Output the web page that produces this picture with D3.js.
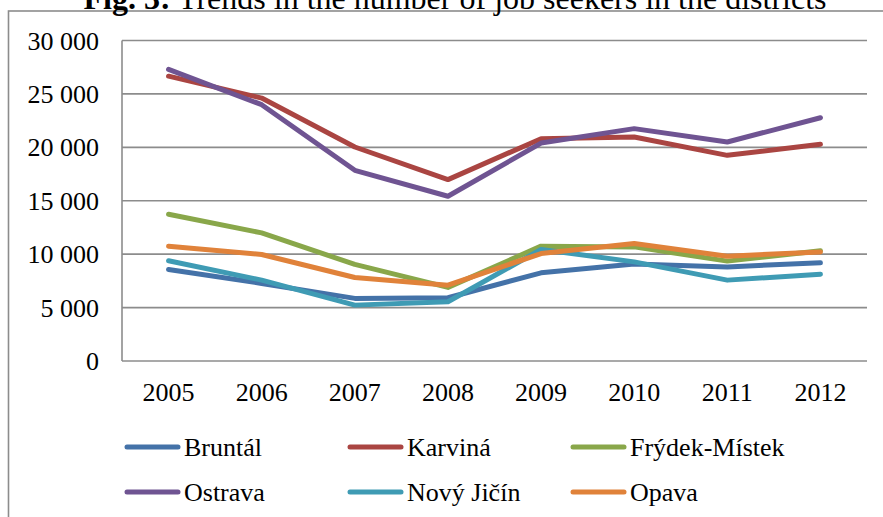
<!DOCTYPE html>
<html>
<head>
<meta charset="utf-8">
<script src="https://cdn.jsdelivr.net/npm/d3@7"></script>
<style>
  body { margin: 0; background: #fff; }
  text { font-family: "Liberation Serif", "Times New Roman", serif; fill: #000; }
</style>
</head>
<body>
<div id="chart"></div>
<script>
// chart data
const years = ["2005", "2006", "2007", "2008", "2009", "2010", "2011", "2012"];
const districts = ["Bruntál", "Karviná", "Frýdek-Místek", "Ostrava", "Nový Jičín", "Opava"];
const bruntal  = [8570, 7260, 5860, 5920, 8250, 9070, 8810, 9190];
const karvina  = [26660, 24610, 20030, 16980, 20810, 20960, 19250, 20280];
const frydek   = [13740, 11990, 9040, 6890, 10750, 10680, 9350, 10310];
const ostrava  = [27290, 23990, 17850, 15420, 20400, 21750, 20500, 22770];
const novyJicin = [9380, 7570, 5230, 5550, 10440, 9280, 7570, 8130];
const opava    = [10750, 9970, 7820, 7100, 10060, 11000, 9810, 10210];
const yTicks = [0, 5000, 10000, 15000, 20000, 25000, 30000];
const colors = ["#4472a8", "#aa4542", "#89a74a", "#6f5492", "#3f9bb4", "#e0823a"];

const series = [bruntal, karvina, frydek, ostrava, novyJicin, opava];

const width = 883, height = 517;
const margin = { top: 40.5, right: 16, bottom: 156, left: 122 };

const svg = d3.select("#chart").append("svg")
    .attr("width", width)
    .attr("height", height);

// outer frame (runs past the picture edges, like the original crop)
svg.append("rect")
    .attr("x", 8.5).attr("y", 11)
    .attr("width", 900).attr("height", 540)
    .attr("fill", "none")
    .attr("stroke", "#8c8c8c")
    .attr("stroke-width", 1.6);

// title, its top is cut off in the original
const title = svg.append("text")
    .attr("x", 455).attr("y", 8.5)
    .attr("text-anchor", "middle")
    .style("font-size", "32px");
title.append("tspan").style("font-weight", "bold").text("Fig. 3:");
title.append("tspan").text(" Trends in the number of job seekers in the districts");

const x = d3.scaleBand()
    .domain(years)
    .range([margin.left, width - margin.right]);

const y = d3.scaleLinear()
    .domain([0, 30000])
    .range([height - margin.bottom, margin.top]);

const fmt = d => d3.format(",")(d).replace(",", " ");

// gridlines
svg.append("g")
    .selectAll("line")
    .data(yTicks)
    .enter()
    .append("line")
    .attr("x1", margin.left)
    .attr("x2", width - margin.right)
    .attr("y1", d => y(d))
    .attr("y2", d => y(d))
    .attr("stroke", "#8c8c8c")
    .attr("stroke-width", 1.6);

// left axis line
svg.append("line")
    .attr("x1", margin.left).attr("x2", margin.left)
    .attr("y1", y(0)).attr("y2", y(30000))
    .attr("stroke", "#8c8c8c")
    .attr("stroke-width", 1.6);

// y labels
svg.append("g")
    .selectAll("text")
    .data(yTicks)
    .enter()
    .append("text")
    .attr("x", 99)
    .attr("y", d => y(d) + 9)
    .attr("text-anchor", "end")
    .style("font-size", "26px")
    .text(fmt);

// x labels
svg.append("g")
    .selectAll("text")
    .data(years)
    .enter()
    .append("text")
    .attr("x", d => x(d) + x.bandwidth() / 2)
    .attr("y", 401)
    .attr("text-anchor", "middle")
    .style("font-size", "26px")
    .text(d => d);

// lines
const line = d3.line()
    .x((d, i) => x(years[i]) + x.bandwidth() / 2)
    .y(d => y(d));

svg.append("g")
    .selectAll("path")
    .data(series)
    .enter()
    .append("path")
    .attr("d", line)
    .attr("fill", "none")
    .attr("stroke", (d, i) => colors[i])
    .attr("stroke-width", 5)
    .attr("stroke-linejoin", "round")
    .attr("stroke-linecap", "round");

// legend
const legend = svg.append("g")
    .selectAll("g")
    .data(districts)
    .enter()
    .append("g")
    .attr("transform", (d, i) => `translate(${125 + (i % 3) * 223},${447 + Math.floor(i / 3) * 45})`);

legend.append("line")
    .attr("x1", 2).attr("x2", 53)
    .attr("stroke", (d, i) => colors[i])
    .attr("stroke-width", 5)
    .attr("stroke-linecap", "round");

legend.append("text")
    .attr("x", 59)
    .attr("y", 8.5)
    .style("font-size", "26px")
    .text(d => d);
</script>
</body>
</html>
